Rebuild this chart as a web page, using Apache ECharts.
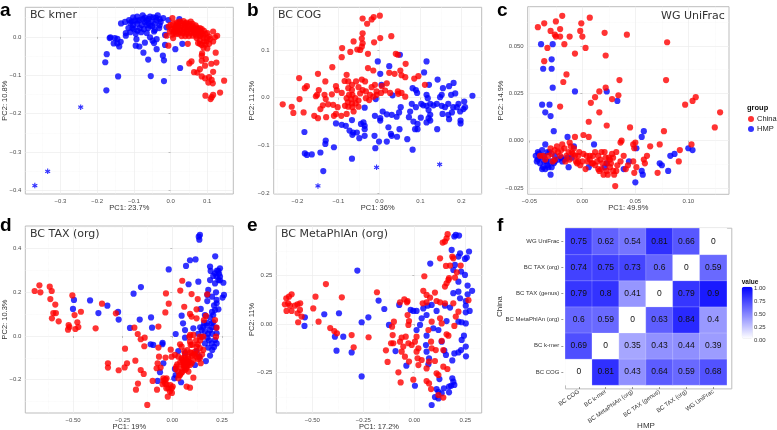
<!DOCTYPE html>
<html>
<head>
<meta charset="utf-8">
<title>PCoA panels</title>
<script src="https://cdn.jsdelivr.net/npm/echarts@6/dist/echarts.min.js"></script>
<style>
  html, body { margin: 0; padding: 0; background: #fff; }
  #chart { width: 777px; height: 430px; }
</style>
</head>
<body>
<div id="chart"></div>
<script>
// panel a, BC kmer
const kmerHmp = [[-.175,-.139],[-.143,-.103],[-.054,-.102],[-.018,-.115],[.026,-.081],[-.178,-.066],[-.174,-.045],[-.061,-.059],[-.018,-.061],[-.021,-.049],[-.074,-.041],[-.038,-.032],[.013,-.032],[.032,-.018],[-.015,-.021],
  [-.135,.035],[-.124,.039],[-.113,.044],[-.102,.051],[-.091,.053],[-.076,.056],[-.056,.053],[-.047,.051],[-.035,.056],[-.02,.049],[-.006,.044],[.024,.046],[-.106,.04],[-.097,.043],[-.085,.044],[-.076,.046],[-.065,.043],[-.052,.04],[-.038,.043],[-.027,.039],[-.102,.031],[-.091,.034],[-.079,.031],[-.065,.031],[-.055,.029],[-.043,.034],[-.115,.023],[-.104,.023],[-.084,.023],[-.073,.02],[-.061,.023],[-.043,.018],[-.031,.023],[-.011,.025],[-.122,.01],[-.122,.003],[-.095,.008],[-.093,-.006],[-.065,.01],[-.056,-.001],[-.045,.014],[-.038,-.006],[-.015,.005],[-.07,-.015],[-.049,-.01],[-.045,-.016],[-.095,-.023],[-.085,-.025],
  [-.166,-.003],[-.164,-.001],[-.152,-.003],[-.145,-.005],[-.155,-.017],[-.145,-.017],[-.14,-.025],[-.136,-.013],
  [-.11,.036],[-.09,.042],[-.07,.05],[-.06,.047],[-.04,.05],[-.03,.046],[-.1,.02],[-.09,.016],[-.08,.012],[-.11,.012],[-.07,.038],[-.05,.028],[-.03,.03],[-.06,.036]];
const kmerChina = [[.005,.049],[-.005,.027],[0,.031],[.007,.034],[.016,.037],[.025,.04],[.035,.041],[.044,.037],[.055,.04],[.003,.02],[.012,.023],[.021,.027],[.03,.029],[.039,.03],[.048,.029],[.06,.027],[.071,.025],[.08,.023],[-.002,.014],[.009,.011],[.018,.016],[.027,.018],[.036,.02],[.045,.018],[.055,.02],[.064,.018],[.073,.016],[.082,.014],[.091,.016],[.021,.008],[.033,.01],[.044,.008],[.055,.01],[.066,.008],[.078,.005],[.089,.003],[.1,.01],[.116,.014],[.127,.003],[.121,-.001],[.105,.001],[.116,-.012],[.071,-.003],[.08,-.01],[.091,-.012],[.075,-.016],[.085,-.021],[.098,-.012],[.107,-.006],[-.011,.003],[.007,-.003],[-.006,-.023],[.047,-.018],[.086,-.043],[.085,-.049],[.123,-.041],[.057,-.064],[.051,-.069],[.085,-.062],[.096,-.058],[.111,-.07],[.125,-.067],[.064,-.092],[.073,-.093],[.08,-.084],[.094,-.075],[.085,-.103],[.094,-.108],[.105,-.105],[.116,-.091],[.112,-.112],[.103,-.119],[.115,-.121],[.146,-.114],[.135,-.145],[.095,-.153],[.116,-.151],[.112,-.157],[.109,-.162],
  [.01,.02],[.015,.03],[.02,.035],[.03,.036],[.04,.035],[.05,.034],[.06,.034],[.068,.03],[.075,.02],[.085,.02],[.095,.008],[.085,.008],[.075,.012],[.065,.012],[.055,.014],[.045,.012],[.035,.014],[.025,.012],[.015,.008],[.005,.006],[.012,.014],[.04,.024],[.05,.024],[.06,.022],[.07,.02],[.025,.024],[.015,.025],[.08,.002],[.07,.003],[.06,.003],[.05,.002],[.04,.002],[.03,.002],[.09,-.003],[.1,-.004],[.095,-.02],[.08,-.018],[.105,-.018],[.09,-.028],[.1,-.03]];
const kmerStars = [[-.37,-.387],[-.335,-.35],[-.245,-.183]];

// panel b, BC COG
const cogHmp = [[.05,.09],[-.004,.076],[.024,.066],[.002,.05],[.115,.076],[.109,.053],[.121,.027],[.142,.038],[.005,.027],[.081,.02],[.089,.016],[.092,.01],[.155,.02],[.17,.024],[.181,.031],[.227,.004],[.207,-.008],[.185,.009],[.175,.006],[.152,.006],[.148,.001],[.118,-.001],[.115,.006],[.032,.005],[-.009,-.003],
  [.079,-.013],[.089,-.02],[.102,-.013],[.107,-.016],[.115,-.017],[.124,-.013],[.132,-.016],[.14,-.013],[.152,-.017],[.16,-.02],[.168,-.013],[.18,-.02],[.193,-.013],[.205,-.024],[.209,-.02],[.197,-.029],[.189,-.02],[.177,-.031],[.168,-.036],[.154,-.034],[.17,-.045],[.12,-.026],[.124,-.036],[.12,-.043],[.115,-.052],[.124,-.048],[.198,-.048],[.198,-.054],[.141,-.066],
  [.075,-.029],[.052,-.02],[.048,-.031],[.042,-.04],[.072,-.041],[.101,-.042],[.083,-.05],[.093,-.055],[.087,-.066],[.093,-.066],[.049,-.066],[.03,-.036],[.008,-.029],[.018,-.035],[-.011,-.038],[.002,-.043],[.002,-.048],[.022,-.062],[.028,-.076],[.03,-.08],[.043,-.082],[.068,-.087],[.018,-.092],[-.001,-.092],[-.012,-.08],[-.01,-.106],[.081,-.109],[-.036,-.021],
  [-.067,-.047],[-.106,-.054],[-.092,-.057],[-.082,-.059],[-.073,-.069],[-.064,-.073],[-.066,-.078],[-.055,-.073],[-.049,-.085],[-.036,-.08],[-.045,-.055],[-.039,-.052],[-.036,-.059],[-.036,-.066],
  [-.183,-.072],[-.182,-.117],[-.177,-.12],[-.165,-.119],[-.144,-.115],[-.132,-.097],[-.131,-.09],[-.111,-.104],[-.067,-.128],[-.137,-.154]];
const cogChina = [[.001,.172],[-.014,.169],[-.019,.164],[-.041,.166],[-.03,.155],[-.041,.135],[-.043,.124],[-.041,.114],[-.043,.107],[-.047,.1],[-.054,.101],[-.063,.118],[-.013,.116],[.002,.125],[.029,.129],[-.091,.104],[-.071,.096],[-.092,.085],[-.028,.092],[.04,.092],[.045,.09],[.064,.071],[-.115,.064],[-.15,.05],[-.196,.041],[-.177,.024],[-.182,.02],[-.132,.034],[-.028,.062],[-.015,.057],[.024,.052],[.037,.05],[.051,.057],[.054,.047],[.063,.043],[.085,.04],[.095,.045],[.111,.027],
  [-.236,-.014],[-.214,-.019],[-.21,-.032],[-.185,-.031],[-.195,-.003],[-.159,-.038],[-.15,-.043],[-.144,-.024],[-.13,-.041],[-.111,-.038],[-.106,-.034],[-.093,-.038],[-.08,-.034],[-.138,-.016],[-.125,-.014],[-.113,-.015],[-.102,-.02],[-.152,.006],[-.148,.016],[-.155,.003],[-.134,.006],[-.131,-.003],[-.116,.007],[-.106,.024],[-.104,.016],[-.092,.01],[-.085,.035],[-.076,.034],[-.08,.048],[-.067,.027],[-.057,.034],[-.043,.038],[-.035,.034],[-.051,.022],
  [-.076,.02],[-.067,.016],[-.074,.006],[-.066,.006],[-.08,-.001],[-.069,-.003],[-.059,-.001],[-.077,-.01],[-.067,-.012],[-.058,-.012],[-.076,-.019],[-.066,-.02],[-.084,-.017],[-.051,-.006],[-.047,.009],[-.041,.016],[-.033,.013],[-.023,.006],[-.033,-.001],[-.025,-.005],[-.015,.002],[-.007,.006],[-.019,.022],[-.011,.027],[.006,.024],[-.007,.013],[.004,.01],[.014,.015],[.018,.03],[.026,.01],[.045,.013],[.046,.008],[.054,.01],[.063,.002],[-.063,-.029],[-.051,-.019]];
const cogStars = [[-.15,-.185],[-.007,-.146],[.147,-.14]];

// panel c, WG UniFrac
const unifracHmp = [[-.039,.051],[-.028,.051],[-.029,.043],[-.037,.038],[-.029,.038],[-.028,.028],[-.007,.026],[.023,.026],[.033,.021],[-.038,.019],[-.031,.019],[-.035,.015],[-.03,.013],[-.027,.005],[.058,.005],[.056,.002],[-.014,.002],[.011,-.002],[.051,-.004],[.1,-.004],[.104,-.005],[.087,-.007],[.083,-.008],[.073,-.012],[.075,-.013],[.081,-.016],[.044,-.011],[.056,-.016],[.057,-.018],[.05,-.022],[.039,-.015],[.023,-.012],[.021,-.014],[.006,-.014],[-.013,-.014],
  [-.044,-.008],[-.042,-.006],[-.038,-.005],[-.035,-.002],[-.042,-.01],[-.04,-.012],[-.037,-.014],[-.035,-.015],[-.03,-.018],[-.032,-.014],[-.034,-.011],[-.031,-.006],[-.027,-.012],[-.026,-.008],[-.02,-.009],[-.017,-.01],[-.01,-.009],[-.008,-.003],
  [-.043,-.011],[-.04,-.009],[-.036,-.011],[-.036,-.008],[-.033,-.013],[-.03,-.011],[-.029,-.014],[-.038,-.015],[-.041,-.007],[-.033,-.006],[-.026,-.011],[-.023,-.01],[-.019,-.011],[-.014,-.009]];
const unifracChina = [[-.019,.066],[.007,.065],[-.042,.06],[-.036,.062],[-.025,.063],[-.001,.062],[-.03,.058],[-.021,.059],[-.026,.056],[-.025,.055],[-.021,.055],[-.012,.055],[-.002,.058],[0,.055],[.021,.057],[.042,.056],[-.017,.051],[-.033,.049],[.003,.049],[-.007,.046],[.022,.045],[.08,.052],[-.036,.042],[-.015,.035],[-.018,.031],[.035,.032],[.079,.032],[.022,.028],[.016,.026],[.012,.023],[.034,.024],[.028,.022],[.008,.02],[-.021,.018],[.016,.015],[.097,.019],[.104,.021],[.107,.023],[.13,.015],[.125,.007],[.006,.01],[.023,.008],[.045,.007],[.077,.005],[-.007,.002],[.001,.003],[.006,.002],
  [.064,-.003],[.073,-.002],[.103,-.002],[.092,-.005],[.091,-.011],[.061,-.008],[.048,-.002],[.05,-.001],[.049,-.004],[.037,0],[.036,-.001],[.058,-.01],[.059,-.012],[.051,-.014],[.048,-.011],[.049,-.017],[.071,-.017],[.031,-.024],[.039,-.008],[.036,-.011],[.043,-.013],[.041,-.015],
  [-.04,-.008],[-.037,-.008],[-.035,-.01],[-.032,-.008],[-.029,-.007],[-.026,-.005],[-.023,-.006],[-.019,-.002],[-.012,-.001],[-.011,-.003],[-.021,-.008],[-.026,-.01],[-.016,-.011],[-.012,-.01],[-.013,-.006],[-.008,-.004],[-.007,-.008],[-.004,-.008],[.001,-.007],[.004,-.008],[.007,-.008],[.01,-.008],[.015,-.008],[-.005,-.012],[-.002,-.013],[.003,-.015],[0,-.011],[.009,-.012],[.012,-.013],[.015,-.015],[.018,-.015],[.02,-.018],[.023,-.016],[.026,-.014],[.029,-.016],[.032,-.016],[.03,-.018],[.023,-.012],[.025,-.009],[.021,-.006],[.018,-.006],[.032,-.006],[.029,-.009],[.026,-.01],[.017,-.01],[.007,-.01],
  [-.03,-.004],[-.028,-.011],[-.024,-.003],[-.02,-.005],[-.017,-.004],[-.015,-.008],[-.01,-.006],[-.006,-.011],[-.003,-.006],[.005,-.011],[.01,-.012],[.014,-.011],[.012,-.006],[.019,-.012],[.027,-.012],[.022,-.009],[.016,-.016],[.024,-.018],[.028,-.007],[.033,-.013],[-.004,-.011],[-.009,-.007]];

// panel d, BC TAX (org)
const taxHmp = [[.139,.463],[.133,.455],[.136,.441],[.216,.365],[.117,.351],[.089,.347],[.069,.321],[-.018,.305],[.19,.318],[.193,.298],[.24,.31],[.232,.298],[.215,.287],[.223,.272],[.24,.272],[.206,.275],[.19,.256],[.232,.256],[.215,.241],[.257,.244],[.131,.249],[.082,.237],[-.158,.224],[-.195,.194],[.181,.211],[.176,.188],[.176,.16],[.223,.165],[.223,.15],[.26,.188],[.253,.176],[.232,.122],[.215,.119],[.206,.096],[.143,.124],[.164,.096],
  [-.414,.163],[-.495,.165],[-.5,.124],[-.327,.139],[-.372,.105],[-.273,.11],[-.27,.075],[.047,.093],[.054,.058],[-.107,.085],[-.164,.075],[-.102,.038],[-.213,.037],[.017,.009],[.064,.027],[.106,.035],[.156,.043],[.173,.047],[.198,.058],[.206,.063],[.148,.027],[.164,.02],[.19,.027],[.22,.038],[.223,.012],[.215,-.018],[.223,-.034],[.176,-.008],[.148,-.003],[.064,-.008],[.164,-.034],[.198,-.034],[.181,-.053],[.201,-.064],[.19,-.09],[.169,-.115],[.136,-.095],[.114,-.133],[.122,-.069],[.064,-.079],[-.049,-.031],[-.05,-.038],[-.096,-.041],[-.109,-.038],[.03,-.069],[-.045,-.125],[-.062,-.166],[.013,-.151],[.01,-.194],[-.074,-.206],[.044,-.212],[.017,-.179],
  [.2,.18],[.21,.14],[.2,.11],[.19,.085],[.175,.06],[.14,.04],[.13,.01],[.16,.06],[.18,.01],[.2,.01],[.185,-.02],[.21,-.05],[.22,.2],[.235,.285],[.225,.3],[.24,.255],[.2,.04]];
const taxChina = [[-.693,.206],[-.669,.232],[-.664,.2],[-.617,.226],[-.607,.206],[-.614,.169],[-.589,.144],[-.599,.105],[-.586,.105],[-.606,.081],[-.572,.067],[-.522,.05],[-.518,.041],[-.525,.029],[-.503,.186],[-.492,.096],[-.46,.111],[-.478,.063],[-.473,.041],[-.488,.032],[-.386,.035],[-.354,.148],[-.284,.104],[-.191,.038],[-.174,.009],[-.159,-.015],[-.139,-.008],[-.141,-.047],[-.238,-.058],[-.07,.043],[-.032,.195],[.05,.253],[.04,.208],[.097,.192],[.128,.169],[.06,.134],[-.018,.148],[-.035,.108],[.176,.191],[.122,.122],[.089,.101],[.097,.089],[.122,.081],[.159,.073],[.169,.092],[.215,.073],[.223,.038],[.22,-.003],
  [-.324,-.125],[-.324,-.145],[-.228,-.125],[-.24,-.144],[-.27,-.157],[-.186,-.113],[-.159,-.156],[-.144,-.174],[-.173,-.218],[-.183,-.246],[-.099,-.206],[-.077,-.246],[-.126,-.316],[-.07,-.053],[-.067,-.095],[-.034,-.099],[-.008,-.063],[-.074,-.125],[-.079,-.148],[-.059,-.145],
  [-.045,-.194],[-.029,-.194],[-.037,-.217],[-.049,-.221],[-.02,-.24],[-.003,-.24],[-.023,-.278],[-.002,-.261],[-.012,-.255],[.002,-.232],[-.029,-.221],
  [.013,-.087],[-.003,-.095],[.03,-.095],[.047,-.102],[.064,-.087],[.081,-.095],[.097,-.079],[.114,-.072],[.122,-.049],[.139,-.056],[.156,-.064],[.089,-.026],[.086,-.003],[.106,.005],[.139,-.003],[.156,-.003],[.128,-.038],[.039,-.038],[.047,-.049],[.092,-.041],[.064,-.118],[.081,-.118],[.055,-.133],[.072,-.133],[.089,-.133],[.097,-.125],[.106,-.11],[.047,-.148],[.064,-.156],[.081,-.163],[.03,-.163],[.039,-.179],[.03,-.194],[.106,-.191],[.072,-.232],[.089,-.237],[.018,-.151],[.122,-.095],[.143,-.125],[.139,-.102],
  [.05,-.11],[.06,-.1],[.07,-.11],[.08,-.105],[.055,-.12],[.07,-.125],[.085,-.12],[.06,-.145],[.07,-.15],[.05,-.165],[.045,-.17],[.06,-.13],[.04,-.12],[.025,-.13],[.02,-.14],[.1,-.09],[.11,-.085],[.125,-.08],[.13,-.105],[.09,-.075],[.075,-.065],[.06,-.07],[.075,-.14],[.035,-.18],[-.035,-.2],[-.01,-.225],[-.03,-.24],[-.045,-.205],[.15,-.085],[.12,-.02],[.14,-.02],[.09,.005],[.1,-.04]];

// panel e, BC MetaPhlAn (org)
const metaHmp = [[-.279,.274],[-.536,.034],[-.538,-.01],[-.441,.05],[-.369,.055],[-.389,-.065],[-.348,-.065],[-.381,-.137],[-.307,-.146],[-.258,.009],[-.225,.034],[-.258,-.269],[-.175,.12],[-.147,.077],[-.124,-.005],[-.074,.098],[.078,.31],[.183,.38],[.196,.449],[.203,.457],[.219,.454],[.268,.372],[.257,.341],[.248,.334],[.224,.363],[.216,.346],[.199,.303],[.191,.277],[.229,.269],[.248,.252],[.216,.217],[.261,.197],[.283,.17],[.261,.152],[.216,.166],[.191,.158],[.224,.132],[.252,.118],[.252,.094],[.271,.067],[.252,.06],[.175,.084],[.15,.094],[.109,.067],[.085,.098],[.065,.094],[.044,.08],[.011,.067],[-.018,.072],[-.005,.067],[.06,.046],[.036,.029],[.028,-.005],[.011,-.031],[.158,.015],[.216,.012],[.232,.009],[.252,.003],[.243,-.06],[.232,-.082],[.252,-.116],[.229,-.134],[.216,-.146],[.196,-.151],[.253,-.166],[.186,-.187],[.147,-.137],[.134,-.091],[.155,-.159],[.118,-.031],[.093,-.022],[.06,-.06],[.057,-.108],[.06,-.142],[.072,-.176],[.069,-.207],[-.039,-.214],[-.092,-.139],[.003,-.317],[.186,-.279],[.191,-.296],[.18,-.317],[.196,-.313],[.17,-.322],[.145,-.33],[.17,-.351],[.109,-.334],[.118,-.348],[.101,-.375],[.118,-.382],[.134,-.356],[.085,-.416],[.123,-.283]];
const metaChina = [[-.627,.132],[-.614,.14],[-.601,.152],[-.634,.101],[-.618,.106],[-.626,.067],[-.601,.067],[-.609,.094],[-.585,.094],[-.572,.101],[-.559,.106],[-.56,.072],[-.572,.055],[-.552,.038],[-.569,.009],[-.495,.08],[-.484,.14],[-.433,.205],[-.355,.137],[-.469,.012],[-.412,-.021],[-.392,-.036],[-.379,-.048],[-.307,-.057],[-.297,-.12],[-.224,-.068],[-.183,.163],[-.07,.111],[-.049,.127],[-.033,.118],[-.036,.111],[-.033,.046],[-.026,.015],[-.029,-.005],[-.1,.012],[-.109,-.014],[-.106,-.057],[-.114,-.099],[-.103,-.099],[-.139,-.135],[-.131,-.195],[-.078,-.248],[-.067,-.3],[-.005,-.286],[-.062,-.07],[-.042,-.065],[-.07,-.091],[-.054,-.116],[-.062,-.142],[-.046,-.168],[-.026,-.193],[-.029,-.099],[-.013,-.108],[.003,-.091],[.011,-.065],[.02,-.125],[.011,-.142],[.016,-.176],[.02,-.211],[.036,-.185],[.06,-.228],[.072,-.193],[.101,-.19],[.085,-.125],[.105,-.134],[.082,-.091],[.134,-.087],[.158,-.053],[.167,-.06],[.069,-.031],[.085,.012],[.134,.003],[.126,.029],[.196,-.01],[.203,.038],[.216,.063],[.191,.106],[.15,.106],[.126,.111],[.109,.118],[.101,.161],[.077,.135],[.06,.149],[.044,.17],[.041,.106],[.06,.111],[.049,.245],[.15,.192],[.158,.209],[.167,.226],[.17,.235],[.199,.238],[.155,.298],[.175,.3],[.208,.265],[.227,.3],[.186,.346],[.191,.337],[.126,.337],[.139,.418],[.15,.423],[.158,.44],[.163,.461],[.265,.122],[.142,-.134],[.142,-.219],[.162,-.231],[.118,-.262],[.109,-.253],[.06,-.293],[.072,-.305],[.082,-.334],[.118,-.365],[.142,-.378]];

// panel f, heatmap
const methods = ['BC COG', 'BC k-mer', 'BC MetaPhlAn (org)', 'BC TAX (genus)', 'BC TAX (org)', 'WG UniFrac'];
const rowCog = [0, .81, .43, .64, .59, .68];
const rowKmer = [.69, 0, .35, .43, .44, .39];
const rowMeta = [.6, .59, 0, .63, .84, .4];
const rowGenus = [.79, .8, .41, 0, .79, .9];
const rowTax = [.74, .75, .73, .6, 0, .59];
const rowUnifrac = [.75, .62, .54, .81, .66, 0];
const heatRows = [rowCog, rowKmer, rowMeta, rowGenus, rowTax, rowUnifrac];
const colorbarTicks = ['1.00', '0.75', '0.50', '0.25', '0.00'];

const BLUE = '#0000ff';
const RED = '#ff0000';
const GRID_MAJOR = '#ececec';
const GRID_MINOR = '#f5f5f5';
const FRAME = '#bdbdbd';
const LABEL = '#4d4d4d';
const SANS = '"Liberation Sans", Arial, sans-serif';
const STAR = 'path://M-2,-10L2,-10L2,10L-2,10ZM7.66,6.73L-9.66,-3.27L-7.66,-6.73L9.66,3.27ZM9.66,-3.27L-7.66,6.73L-9.66,3.27L7.66,-6.73Z';

const panels = [
  { name: 'BC kmer', letter: 'a', letterPos: [0, 1], titlePos: [30, 10], yGap: 16.6,
    box: [25.3, 7.3, 233.3, 194], xRange: [-.396, .171], yRange: [-.409, .077],
    xTicks: [-.3, -.2, -.1, 0, .1], yTicks: [-.4, -.3, -.2, -.1, 0], xDigits: 1, yDigits: 1,
    xName: 'PC1: 23.7%', yName: 'PC2: 10.8%', hmp: kmerHmp, china: kmerChina, stars: kmerStars },
  { name: 'BC COG', letter: 'b', letterPos: [247, 1], titlePos: [278, 10], yGap: 17.7,
    box: [273.7, 7.3, 481.7, 194], xRange: [-.258, .2496], yRange: [-.202, .1895],
    xTicks: [-.2, -.1, 0, .1, .2], yTicks: [-.2, -.1, 0, .1], xDigits: 1, yDigits: 1,
    xName: 'PC1: 36%', yName: 'PC2: 11.2%', hmp: cogHmp, china: cogChina, stars: cogStars },
  { name: 'WG UniFrac', letter: 'c', letterPos: [497, 1], titlePos: [661, 11], yGap: 22.7,
    box: [527.7, 6.7, 729, 194.3], xRange: [-.0516, .1384], yRange: [-.02835, .0708],
    xTicks: [-.05, 0, .05, .1], yTicks: [-.025, 0, .025, .05], xDigits: 2, yDigits: 3,
    xName: 'PC1: 49.9%', yName: 'PC2: 14.9%', hmp: unifracHmp, china: unifracChina },
  { name: 'BC TAX (org)', letter: 'd', letterPos: [0, 216], titlePos: [30, 229], yGap: 16.6,
    box: [25.3, 226, 233.3, 413], xRange: [-.74, .307], yRange: [-.353, .504],
    xTicks: [-.5, -.25, 0, .25], yTicks: [-.2, 0, .2, .4], xDigits: 2, yDigits: 1,
    xName: 'PC1: 19%', yName: 'PC2: 10.3%', hmp: taxHmp, china: taxChina },
  { name: 'BC MetaPhlAn (org)', letter: 'e', letterPos: [247, 216], titlePos: [281, 229], yGap: 20.3,
    box: [276.3, 226, 481.7, 413], xRange: [-.676, .33], yRange: [-.457, .503],
    xTicks: [-.5, -.25, 0, .25], yTicks: [-.25, 0, .25], xDigits: 2, yDigits: 2,
    xName: 'PC1: 17.2%', yName: 'PC2: 11%', hmp: metaHmp, china: metaChina }
];

function fmt(v, digits) {
  return v.toFixed(digits).replace('-', '\u2212');
}

// minor gridlines sit halfway between major ticks
function minorTicks(ticks, range) {
  const step = ticks[1] - ticks[0];
  const out = [];
  for (let t = ticks[0] - step / 2; t < range[1]; t += step) {
    if (t > range[0]) out.push(t);
  }
  return out;
}

const grids = [], xAxes = [], yAxes = [], series = [], titles = [];

panels.forEach((p, i) => {
  grids.push({ left: p.box[0], top: p.box[1], width: p.box[2] - p.box[0], height: p.box[3] - p.box[1],
    outerBoundsMode: 'none', show: true, borderColor: FRAME, borderWidth: 1, backgroundColor: '#fff' });

  const mainAxis = (range, ticks, digits, name, gap) => ({
    type: 'value', gridIndex: i, min: range[0], max: range[1], scale: true,
    name: name, nameLocation: 'middle', nameGap: gap, nameMoveOverlap: false,
    nameTextStyle: { fontFamily: SANS, fontSize: 7.5, color: '#333' },
    axisLine: { show: false },
    axisTick: { show: true, length: 2, customValues: ticks, lineStyle: { color: '#999', width: 0.6 } },
    axisLabel: { show: true, customValues: ticks, margin: 4, fontFamily: SANS, fontSize: 6, color: LABEL,
      formatter: (v) => fmt(v, digits) },
    splitLine: { show: true, lineStyle: { color: GRID_MAJOR, width: 0.7 } }
  });
  const minorAxis = (range, ticks) => ({
    type: 'value', gridIndex: i, min: range[0], max: range[1], scale: true,
    axisLine: { show: false },
    axisTick: { show: false, customValues: minorTicks(ticks, range) },
    axisLabel: { show: false, customValues: minorTicks(ticks, range) },
    splitLine: { show: true, lineStyle: { color: GRID_MINOR, width: 0.6, type: 'dotted' } }
  });

  xAxes.push(mainAxis(p.xRange, p.xTicks, p.xDigits, p.xName, 10));
  xAxes.push(minorAxis(p.xRange, p.xTicks));
  yAxes.push(mainAxis(p.yRange, p.yTicks, p.yDigits, p.yName, p.yGap));
  yAxes.push(minorAxis(p.yRange, p.yTicks));

  const xi = 2 * i, yi = 2 * i;
  series.push({ type: 'scatter', name: 'HMP', xAxisIndex: xi, yAxisIndex: yi, data: p.hmp,
    symbolSize: 6.2, itemStyle: { color: BLUE }, silent: true, animation: false });
  if (p.stars) {
    series.push({ type: 'scatter', name: 'HMP outlier', xAxisIndex: xi, yAxisIndex: yi, data: p.stars,
      symbol: STAR, symbolSize: 5.5, itemStyle: { color: BLUE }, silent: true, animation: false });
  }
  series.push({ type: 'scatter', name: 'China', xAxisIndex: xi, yAxisIndex: yi, data: p.china,
    symbolSize: 6.2, itemStyle: { color: RED }, silent: true, animation: false });

  titles.push({ text: p.name, left: p.titlePos[0], top: p.titlePos[1], padding: 0,
    textStyle: { fontFamily: '"DejaVu Sans", sans-serif', fontSize: 11, fontWeight: 'normal', color: '#333' } });
  titles.push({ text: p.letter, left: p.letterPos[0], top: p.letterPos[1], padding: 0,
    textStyle: { fontFamily: SANS, fontSize: 19, fontWeight: 'bold', color: '#000' } });
});

// heatmap panel
const heatGrid = grids.length;
grids.push({ left: 565.3, top: 228.3, width: 161.4, height: 156.7, outerBoundsMode: 'none' });
const heatAxis = (name, gap, rotate) => ({
  type: 'category', gridIndex: heatGrid, data: methods, offset: 2,
  name: name, nameLocation: 'middle', nameGap: gap, nameMoveOverlap: false,
  nameTextStyle: { fontFamily: SANS, fontSize: 8, color: '#333' },
  axisLine: { show: false },
  axisTick: { show: true, alignWithLabel: true, length: 2, lineStyle: { color: '#555', width: 0.6 } },
  axisLabel: { show: true, interval: 0, rotate: rotate, margin: 4, fontFamily: SANS, fontSize: 6, color: '#333', hideOverlap: false },
  splitLine: { show: false }
});
xAxes.push(heatAxis('HMP', 35, 35));
yAxes.push(heatAxis('China', 60, 0));

const heatData = [];
heatRows.forEach((row, y) => row.forEach((v, x) => heatData.push([x, y, v])));
series.push({ type: 'heatmap', name: 'value', xAxisIndex: xAxes.length - 1, yAxisIndex: yAxes.length - 1, data: heatData,
  itemStyle: { borderColor: 'rgba(255,255,255,0.35)', borderWidth: 0.6 },
  label: { show: true, fontFamily: SANS, fontSize: 8.5, color: '#111', formatter: (d) => String(d.value[2]) },
  silent: true, animation: false });

titles.push({ text: 'f', left: 497, top: 216, padding: 0,
  textStyle: { fontFamily: SANS, fontSize: 19, fontWeight: 'bold', color: '#000' } });

const colorbarLabels = colorbarTicks.map((t, k) => ({
  type: 'text', left: 754, top: 285.5 + k * 12.9,
  style: { text: t, fontFamily: SANS, fontSize: 6, fill: '#333' }, silent: true
}));

const option = {
  animation: false,
  backgroundColor: '#fff',
  title: titles,
  grid: grids,
  xAxis: xAxes,
  yAxis: yAxes,
  series: series,
  legend: {
    data: ['China', 'HMP'], orient: 'vertical', left: 748, top: 115, padding: 0,
    itemWidth: 6, itemHeight: 6, itemGap: 2, icon: 'circle', selectedMode: false,
    textStyle: { fontFamily: SANS, fontSize: 7.5, color: '#222', padding: [0, 0, 0, -2] }
  },
  visualMap: {
    type: 'continuous', min: 0, max: 1, seriesIndex: series.length - 1, calculable: false,
    orient: 'vertical', left: 741.7, top: 286.7, itemWidth: 11, itemHeight: 52, padding: 0,
    text: null, showLabel: false, inRange: { color: ['#ffffff', BLUE] }, hoverLink: false
  },
  graphic: [
    { type: 'rect', left: 563, top: 225.7, shape: { width: 166.3, height: 160.7 },
      style: { fill: 'none', stroke: FRAME, lineWidth: 1 }, silent: true },
    { type: 'text', left: 747, top: 104, style: { text: 'group', fontFamily: SANS, fontSize: 7.5, fontWeight: 'bold', fill: '#111' }, silent: true },
    { type: 'text', left: 741.7, top: 279, style: { text: 'value', fontFamily: SANS, fontSize: 6.5, fontWeight: 'bold', fill: '#111' }, silent: true }
  ].concat(colorbarLabels)
};

const chart = echarts.init(document.getElementById('chart'), null, { renderer: 'canvas' });
chart.setOption(option);
</script>
</body>
</html>
